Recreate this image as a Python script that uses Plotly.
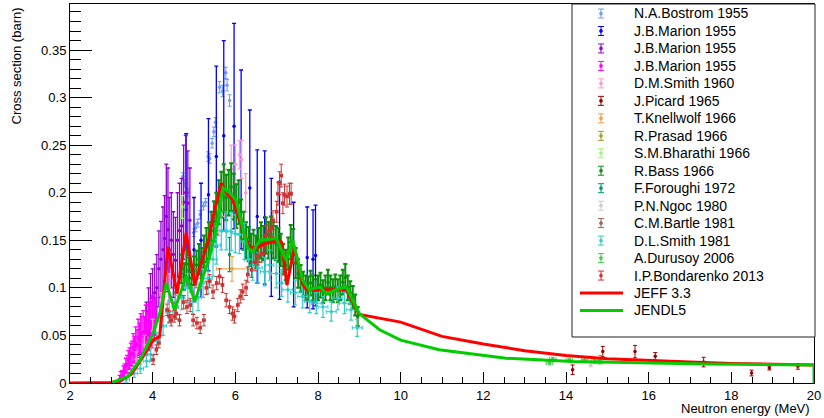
import plotly.graph_objects as go

# ---------------- data ----------------
bostrom_x = [4.73, 4.78, 4.85, 4.99, 5.04, 5.09, 5.15, 5.23, 5.28, 5.34, 5.38, 5.44, 5.48, 5.52, 5.62, 5.69, 5.77, 5.80, 5.86]
bostrom_y = [0.217, 0.21, 0.20, 0.158, 0.163, 0.168, 0.177, 0.186, 0.19, 0.238, 0.236, 0.252, 0.264, 0.274, 0.311, 0.307, 0.326, 0.313, 0.297]
bostrom_e = [0.004, 0.004, 0.004, 0.004, 0.004, 0.004, 0.004, 0.004, 0.004, 0.005, 0.005, 0.005, 0.005, 0.005, 0.006, 0.006, 0.006, 0.006, 0.006]

marion1_x = [4.81, 5.00, 5.17, 5.35, 5.54, 5.72, 5.97, 6.14, 6.35, 6.53, 6.71, 6.87, 7.07, 7.41, 7.74, 7.88, 7.94]
marion1_y = [0.182, 0.140, 0.150, 0.198, 0.238, 0.260, 0.270, 0.235, 0.205, 0.175, 0.174, 0.153, 0.150, 0.135, 0.132, 0.130, 0.134]
marion1_e = [0.080, 0.055, 0.060, 0.080, 0.095, 0.100, 0.108, 0.094, 0.082, 0.070, 0.070, 0.062, 0.062, 0.055, 0.053, 0.052, 0.053]

marion2_x = [3.85, 3.90, 3.95, 4.00, 4.05, 4.10, 4.15, 4.20, 4.25, 4.29, 4.33, 4.37, 4.40, 4.45, 4.50, 4.55, 4.60, 4.65, 4.70, 4.75, 4.80, 4.85, 4.90]
marion2_y = [0.065, 0.075, 0.085, 0.090, 0.095, 0.100, 0.120, 0.130, 0.140, 0.152, 0.175, 0.161, 0.140, 0.150, 0.135, 0.129, 0.150, 0.160, 0.165, 0.190, 0.200, 0.189, 0.171]
marion2_e = [0.020, 0.025, 0.030, 0.030, 0.030, 0.035, 0.040, 0.040, 0.045, 0.045, 0.055, 0.065, 0.055, 0.050, 0.045, 0.045, 0.050, 0.050, 0.050, 0.060, 0.060, 0.055, 0.055]

marion3_x = [3.20, 3.23, 3.26, 3.29, 3.32, 3.35, 3.38, 3.41, 3.44, 3.47, 3.50, 3.53, 3.56, 3.59, 3.62, 3.65, 3.68, 3.71, 3.74, 3.77, 3.80, 3.83, 3.86, 3.89, 3.92, 3.95, 3.98, 4.01, 4.04, 4.07]
marion3_y = [0.004, 0.007, 0.008, 0.012, 0.013, 0.018, 0.020, 0.024, 0.026, 0.030, 0.031, 0.037, 0.035, 0.042, 0.040, 0.048, 0.045, 0.052, 0.050, 0.054, 0.050, 0.058, 0.052, 0.058, 0.060, 0.064, 0.061, 0.068, 0.066, 0.070]
marion3_e = [0.004, 0.005, 0.005, 0.006, 0.007, 0.008, 0.009, 0.010, 0.011, 0.012, 0.013, 0.015, 0.014, 0.017, 0.016, 0.019, 0.018, 0.021, 0.020, 0.022, 0.020, 0.024, 0.022, 0.024, 0.025, 0.025, 0.024, 0.024, 0.022, 0.020]

dmsmith_x = [3.60, 3.80, 4.00, 4.20, 4.40, 4.60, 4.80, 5.00, 5.20, 5.40, 5.60, 5.75, 5.90, 6.00, 6.10, 6.15, 6.25]
dmsmith_y = [0.025, 0.040, 0.055, 0.080, 0.100, 0.095, 0.120, 0.100, 0.120, 0.150, 0.180, 0.200, 0.225, 0.230, 0.240, 0.235, 0.200]
dmsmith_e = [0.008, 0.010, 0.012, 0.015, 0.015, 0.015, 0.020, 0.015, 0.020, 0.020, 0.025, 0.025, 0.025, 0.020, 0.015, 0.020, 0.020]

picard_x = [14.16, 14.89, 15.67, 16.16, 17.33, 18.49, 18.92, 19.61]
picard_y = [0.014, 0.033, 0.033, 0.028, 0.022, 0.0105, 0.0157, 0.0175]
picard_e = [0.005, 0.0055, 0.0065, 0.004, 0.005, 0.003, 0.002, 0.003]

knell_x = [5.92]
knell_y = [0.120]
knell_e = [0.013]
knell_xe = [0.38]

prasad_x = [14.83]
prasad_y = [0.025]
prasad_e = [0.004]

bharathi_x = [4.71]
bharathi_y = [0.185]
bharathi_e = [0.012]

bass_x = [4.70, 4.76, 4.82, 4.88, 4.94, 5.00, 5.06, 5.12, 5.18, 5.24, 5.30, 5.36, 5.42, 5.48, 5.54, 5.60, 5.66, 5.72,
          5.78, 5.84, 5.90, 5.96, 6.02, 6.08, 6.14, 6.20, 6.26, 6.32, 6.38, 6.44, 6.50, 6.56, 6.62, 6.68, 6.74, 6.80,
          6.86, 6.92, 6.98, 7.04, 7.10, 7.16, 7.22, 7.28, 7.34, 7.40, 7.46, 7.52, 7.58, 7.64, 7.70, 7.76, 7.82, 7.88,
          7.94, 8.00, 8.06, 8.12, 8.18, 8.24, 8.30, 8.36, 8.42, 8.48, 8.54, 8.60, 8.66, 8.72, 8.78, 8.84, 8.90, 8.96]
bass_y = [0.120, 0.112, 0.125, 0.118, 0.110, 0.118, 0.124, 0.130, 0.126, 0.138, 0.145, 0.150, 0.160, 0.170, 0.178, 0.190, 0.198, 0.205,
          0.195, 0.200, 0.206, 0.196, 0.186, 0.190, 0.172, 0.160, 0.150, 0.146, 0.140, 0.143, 0.138, 0.145, 0.150, 0.147, 0.155, 0.150,
          0.156, 0.150, 0.147, 0.145, 0.140, 0.130, 0.124, 0.136, 0.148, 0.144, 0.126, 0.115, 0.110, 0.104, 0.100, 0.099, 0.105, 0.100,
          0.097, 0.100, 0.103, 0.096, 0.100, 0.106, 0.100, 0.097, 0.101, 0.097, 0.100, 0.106, 0.111, 0.100, 0.095, 0.090, 0.082, 0.070]
bass_e = [0.015, 0.014, 0.015, 0.014, 0.014, 0.015, 0.015, 0.016, 0.016, 0.017, 0.018, 0.019, 0.020, 0.021, 0.022, 0.023, 0.024, 0.025,
          0.024, 0.024, 0.025, 0.024, 0.023, 0.023, 0.021, 0.020, 0.019, 0.018, 0.017, 0.018, 0.017, 0.018, 0.019, 0.018, 0.019, 0.019,
          0.019, 0.019, 0.018, 0.018, 0.017, 0.016, 0.016, 0.017, 0.018, 0.018, 0.016, 0.015, 0.014, 0.013, 0.013, 0.013, 0.013, 0.013,
          0.012, 0.013, 0.013, 0.012, 0.013, 0.013, 0.013, 0.012, 0.013, 0.012, 0.013, 0.013, 0.014, 0.013, 0.012, 0.012, 0.011, 0.010]

foroughi_x = [5.86]
foroughi_y = [0.135]
foroughi_e = [0.018]

ngoc_x = [14.60]
ngoc_y = [0.019]
ngoc_e = [0.002]

bartle_x = [4.55, 5.05]
bartle_y = [0.095, 0.110]
bartle_e = [0.010, 0.010]

dlsmith_x = [3.36, 3.55, 3.70, 3.85, 3.95, 4.10, 4.25, 4.40, 4.55, 4.70, 4.85, 4.97, 5.10, 5.22, 5.34, 5.46, 5.54, 5.66, 5.78, 5.90,
             6.00, 6.10, 6.22, 6.32, 6.42, 6.55, 6.71, 6.83, 6.99, 7.12, 7.27, 7.45, 7.63, 7.80, 7.96, 8.12, 8.32, 8.48, 8.64, 8.80, 8.95]
dlsmith_y = [0.004, 0.010, 0.015, 0.023, 0.030, 0.045, 0.060, 0.075, 0.080, 0.090, 0.100, 0.086, 0.090, 0.105, 0.110, 0.130, 0.145, 0.160, 0.160, 0.159,
             0.157, 0.156, 0.149, 0.130, 0.124, 0.121, 0.117, 0.124, 0.115, 0.105, 0.098, 0.095, 0.091, 0.086, 0.084, 0.080, 0.075, 0.089, 0.084, 0.077, 0.058]
dlsmith_e = [0.003, 0.004, 0.005, 0.006, 0.007, 0.008, 0.010, 0.012, 0.012, 0.013, 0.015, 0.013, 0.014, 0.015, 0.016, 0.018, 0.020, 0.020, 0.020, 0.020,
             0.020, 0.020, 0.019, 0.017, 0.016, 0.016, 0.015, 0.016, 0.015, 0.014, 0.013, 0.013, 0.012, 0.012, 0.011, 0.011, 0.010, 0.012, 0.011, 0.011, 0.009]
dlsmith_xe = [0.08, 0.08, 0.08, 0.08, 0.08, 0.08, 0.08, 0.08, 0.08, 0.08, 0.08, 0.08, 0.08, 0.10, 0.10, 0.10, 0.10, 0.10, 0.10, 0.10,
              0.10, 0.10, 0.10, 0.10, 0.10, 0.10, 0.10, 0.10, 0.12, 0.12, 0.12, 0.12, 0.12, 0.12, 0.12, 0.12, 0.12, 0.12, 0.12, 0.12, 0.12]

durusoy_x = [13.60, 13.68, 14.08, 14.45, 14.69, 14.81]
durusoy_y = [0.021, 0.025, 0.024, 0.0245, 0.0227, 0.022]
durusoy_e = [0.002, 0.002, 0.002, 0.002, 0.002, 0.002]
durusoy_xe = [0.08, 0.08, 0.08, 0.08, 0.08, 0.08]

bond_x = [4.01, 4.09, 4.15, 4.35, 4.40, 4.45, 4.52, 4.57, 4.65, 4.75, 4.83, 4.91, 4.98, 5.07, 5.15, 5.24, 5.30, 5.38, 5.46, 5.55,
          5.62, 5.69, 5.78, 5.86, 5.93, 5.98, 6.06, 6.12, 6.18, 6.26, 6.30, 6.39, 6.48, 6.55, 6.63, 6.70, 6.75, 6.82, 6.87, 6.91,
          7.00, 7.03, 7.07, 7.11, 7.15, 7.19, 7.25, 7.31, 7.35]
bond_y = [0.0245, 0.035, 0.042, 0.077, 0.070, 0.066, 0.070, 0.073, 0.066, 0.085, 0.080, 0.082, 0.066, 0.063, 0.058, 0.066, 0.100, 0.107, 0.096, 0.105,
          0.112, 0.103, 0.087, 0.080, 0.073, 0.070, 0.082, 0.091, 0.096, 0.100, 0.114, 0.119, 0.127, 0.133, 0.136, 0.145, 0.156, 0.160, 0.164, 0.171,
          0.180, 0.199, 0.210, 0.218, 0.189, 0.198, 0.196, 0.199, 0.199]
bond_e = [0.005, 0.005, 0.005, 0.006, 0.006, 0.006, 0.006, 0.006, 0.006, 0.007, 0.007, 0.007, 0.006, 0.006, 0.006, 0.006, 0.007, 0.007, 0.007, 0.007,
          0.008, 0.008, 0.007, 0.007, 0.007, 0.007, 0.007, 0.007, 0.008, 0.008, 0.008, 0.008, 0.009, 0.009, 0.009, 0.010, 0.010, 0.010, 0.010, 0.010,
          0.011, 0.012, 0.012, 0.012, 0.011, 0.011, 0.011, 0.011, 0.011]
bond_xe = [0.03, 0.03, 0.03, 0.03, 0.03, 0.03, 0.03, 0.03, 0.03, 0.03, 0.03, 0.03, 0.03, 0.03, 0.03, 0.03, 0.03, 0.03, 0.03, 0.03,
           0.03, 0.03, 0.03, 0.03, 0.03, 0.03, 0.03, 0.03, 0.03, 0.03, 0.03, 0.03, 0.03, 0.03, 0.03, 0.03, 0.03, 0.03, 0.03, 0.03,
           0.03, 0.03, 0.03, 0.03, 0.03, 0.03, 0.03, 0.03, 0.03]

jeff_x = [2.0, 2.9, 3.0, 3.2, 3.48, 3.77, 4.01, 4.17, 4.37, 4.59, 4.81, 5.02, 5.13, 5.35, 5.50, 5.66, 5.74, 5.94, 6.18, 6.35,
          6.55, 6.75, 7.07, 7.12, 7.25, 7.43, 7.63, 7.72, 8.68, 9.0, 9.5, 10.0, 11.0, 12.0, 13.0, 14.0, 15.0, 16.0, 17.0, 18.0,
          19.0, 20.0]
jeff_y = [0.0, 0.0, 0.0005, 0.002, 0.009, 0.028, 0.045, 0.049, 0.143, 0.094, 0.158, 0.103, 0.12, 0.15, 0.182, 0.21, 0.203, 0.192, 0.161, 0.142,
          0.143, 0.147, 0.150, 0.148, 0.103, 0.143, 0.104, 0.098, 0.098, 0.072, 0.068, 0.064, 0.049, 0.041, 0.034, 0.029, 0.0255, 0.0235, 0.022, 0.0205,
          0.0195, 0.019]

jendl_x = [3.0, 3.4, 3.69, 4.01, 4.17, 4.33, 4.53, 4.81, 5.02, 5.38, 5.54, 5.70, 5.86, 6.02, 6.10, 6.30, 6.42, 6.59, 6.99, 7.23,
           7.39, 7.63, 7.79, 8.04, 8.20, 8.44, 8.68, 9.0, 9.49, 10.0, 10.93, 12.55, 14.16, 17.4, 20.0, 20.0]
jendl_y = [0.0, 0.007, 0.024, 0.052, 0.073, 0.105, 0.077, 0.112, 0.086, 0.133, 0.161, 0.205, 0.200, 0.192, 0.177, 0.142, 0.138, 0.150, 0.152, 0.129,
           0.150, 0.108, 0.098, 0.101, 0.094, 0.098, 0.101, 0.073, 0.056, 0.045, 0.035, 0.026, 0.0227, 0.020, 0.019, 0.0]

# legend entries in order: (label, colour, x, y, yerr, xerr, error-bar thickness)
exp_sets = [
    ("N.A.Bostrom 1955", "#6f9cf5", bostrom_x, bostrom_y, bostrom_e, None, 1),
    ("J.B.Marion 1955", "#0000ff", marion1_x, marion1_y, marion1_e, None, 1.3),
    ("J.B.Marion 1955", "#9400d3", marion2_x, marion2_y, marion2_e, None, 1.3),
    ("J.B.Marion 1955", "#ff00ff", marion3_x, marion3_y, marion3_e, None, 1.3),
    ("D.M.Smith 1960", "#ff99cc", dmsmith_x, dmsmith_y, dmsmith_e, None, 1.3),
    ("J.Picard 1965", "#990000", picard_x, picard_y, picard_e, None, 1),
    ("T.Knellwolf 1966", "#ff9933", knell_x, knell_y, knell_e, knell_xe, 1),
    ("R.Prasad 1966", "#a0a020", prasad_x, prasad_y, prasad_e, None, 1),
    ("S.M.Bharathi 1966", "#99ff66", bharathi_x, bharathi_y, bharathi_e, None, 1.3),
    ("R.Bass 1966", "#0b900b", bass_x, bass_y, bass_e, None, 2),
    ("F.Foroughi 1972", "#009966", foroughi_x, foroughi_y, foroughi_e, None, 1.3),
    ("P.N.Ngoc 1980", "#cccccc", ngoc_x, ngoc_y, ngoc_e, None, 1),
    ("C.M.Bartle 1981", "#996655", bartle_x, bartle_y, bartle_e, None, 1),
    ("D.L.Smith 1981", "#33cccc", dlsmith_x, dlsmith_y, dlsmith_e, dlsmith_xe, 1.2),
    ("A.Durusoy 2006", "#44cc44", durusoy_x, durusoy_y, durusoy_e, durusoy_xe, 1),
    ("I.P.Bondarenko 2013", "#cc3333", bond_x, bond_y, bond_e, bond_xe, 1),
]
line_sets = [
    ("JEFF 3.3", "#ff0000", jeff_x, jeff_y),
    ("JENDL5", "#00cc00", jendl_x, jendl_y),
]

FONT = "Liberation Sans, Arial, Helvetica, sans-serif"
W, H = 824, 418
L, R, T, B = 70, 10, 4, 35
PW, PH = W - L - R, H - T - B

def xp(px):
    return (px - L) / PW

def yp(py):
    return (H - B - py) / PH

fig = go.Figure()

for name, col, xs, ys, es, xes, th in exp_sets:
    tr = dict(x=xs, y=ys, mode="markers", name=name, showlegend=False,
              marker=dict(color=col, size=3.5),
              error_y=dict(type="data", array=es, color=col, thickness=th, width=2))
    if xes is not None:
        tr["error_x"] = dict(type="data", array=xes, color=col, thickness=1, width=2)
    fig.add_trace(go.Scatter(**tr))

for name, col, xs, ys in line_sets:
    fig.add_trace(go.Scatter(x=xs, y=ys, mode="lines", name=name, showlegend=False,
                             line=dict(color=col, width=3)))

# ---------------- manual legend (ROOT style) ----------------
shapes = []
annotations = []
lx0, lx1, ly0, ly1 = 572, 815, 4, 337
shapes.append(dict(type="rect", xref="paper", yref="paper", x0=xp(lx0), x1=xp(lx1), y0=yp(ly1), y1=yp(ly0),
                   line=dict(color="#222222", width=1), fillcolor="white", layer="above"))
row0, drow = 13.5, 17.47
gx = 601
entries = [(s[0], s[1], "err") for s in exp_sets] + [(s[0], s[1], "line") for s in line_sets]
for i, (name, col, kind) in enumerate(entries):
    yc = row0 + i * drow
    if kind == "err":
        shapes.append(dict(type="line", xref="paper", yref="paper", x0=xp(gx), x1=xp(gx), y0=yp(yc + 4.5), y1=yp(yc - 4.5),
                           line=dict(color=col, width=1), layer="above"))
        for dy in (-4.5, 4.5):
            shapes.append(dict(type="line", xref="paper", yref="paper", x0=xp(gx - 3), x1=xp(gx + 3), y0=yp(yc + dy), y1=yp(yc + dy),
                               line=dict(color=col, width=1), layer="above"))
        shapes.append(dict(type="circle", xref="paper", yref="paper", x0=xp(gx - 1.6), x1=xp(gx + 1.6), y0=yp(yc + 1.6), y1=yp(yc - 1.6),
                           line=dict(color=col, width=0.5), fillcolor=col, layer="above"))
    else:
        shapes.append(dict(type="line", xref="paper", yref="paper", x0=xp(580), x1=xp(623), y0=yp(yc), y1=yp(yc),
                           line=dict(color=col, width=3), layer="above"))
    annotations.append(dict(text=name, xref="paper", yref="paper", x=xp(632), y=yp(yc), xanchor="left", yanchor="middle",
                            showarrow=False, font=dict(family=FONT, size=14, color="black")))

# axis titles
annotations.append(dict(text="Neutron energy (MeV)", xref="paper", yref="paper", x=xp(812), y=yp(408),
                        xanchor="right", yanchor="middle", showarrow=False, font=dict(family=FONT, size=13, color="black")))
annotations.append(dict(text="Cross section (barn)", xref="paper", yref="paper", x=xp(16), y=yp(5), textangle=-90,
                        xanchor="center", yanchor="top", showarrow=False, font=dict(family=FONT, size=13, color="black")))

fig.update_layout(
    width=W, height=H,
    margin=dict(l=L, r=R, t=T, b=B),
    paper_bgcolor="white", plot_bgcolor="white",
    font=dict(family=FONT, size=13, color="black"),
    shapes=shapes, annotations=annotations,
    showlegend=False,
    xaxis=dict(range=[2, 20], tick0=2, dtick=2, ticks="inside", ticklen=11, tickcolor="black", tickwidth=1,
               showline=True, linecolor="black", linewidth=1, mirror=True, showgrid=False, zeroline=False,
               tickfont=dict(family=FONT, size=13, color="black"),
               minor=dict(dtick=0.5, ticks="inside", ticklen=6, tickcolor="black", showgrid=False)),
    yaxis=dict(range=[0, 0.3984], tick0=0, dtick=0.05, ticks="inside", ticklen=22, tickcolor="black", tickwidth=1,
               showline=True, linecolor="black", linewidth=1, mirror=True, showgrid=False, zeroline=False,
               tickfont=dict(family=FONT, size=13, color="black"),
               minor=dict(dtick=0.01, ticks="inside", ticklen=11, tickcolor="black", showgrid=False)),
)

fig.write_html("out.html", config={"displayModeBar": False},
               post_script="document.body.style.margin='0';document.body.style.padding='0';")
